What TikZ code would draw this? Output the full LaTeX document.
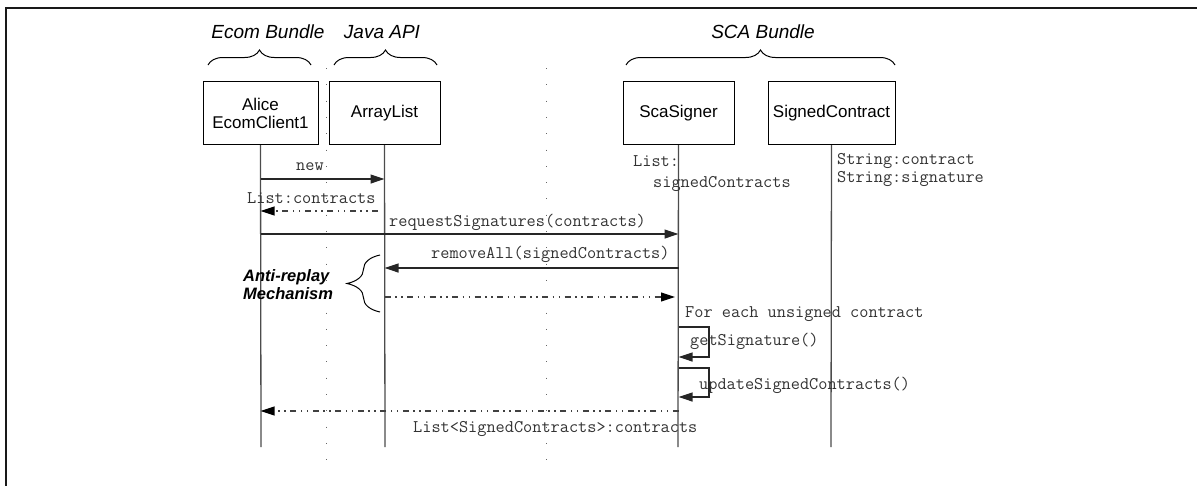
\documentclass[tikz,border=0pt]{standalone}
\usepackage{fontspec}
\setmainfont{Liberation Sans}
\usetikzlibrary{arrows.meta,decorations.pathreplacing}
\begin{document}
\begin{tikzpicture}[x=1pt,y=-1pt,
  box/.style={draw=black,line width=1pt,minimum height=63pt,inner sep=0pt,
    font=\fontsize{17}{18}\selectfont,align=center},
  lifeline/.style={draw=black!70,line width=1.3pt},
  grid/.style={draw=black!60,line width=1pt,dash pattern=on 1pt off 15.3pt},
  msg/.style={draw=black!85,line width=1.2pt,-{Triangle[length=14pt,width=9pt]}},
  ret/.style={draw=black!75,line width=1.1pt,dash pattern=on 6pt off 4.5pt on 1.5pt off 4.5pt on 1.5pt off 4.5pt,
    -{Triangle[length=14pt,width=9pt,color=black]}},
  mono/.style={font=\fontsize{17.8}{20}\selectfont\ttfamily,inner sep=0pt,text=black!80},
  hdr/.style={font=\fontsize{19}{22}\selectfont\itshape,inner sep=0pt},
  brc/.style={draw=black,line width=1pt,decorate,decoration={brace,amplitude=15pt}}
]
\useasboundingbox (0,0) rectangle (1197,485);
% frame
\draw[line width=2pt,black!90] (1197,8) -- (6,8) -- (6,486);
% dotted guides
\draw[grid] (326,68) -- (326,466);
\draw[grid] (546,68) -- (546,466);
% boxes
\node[box,minimum width=115pt] (alice) at (260.5,113) {Alice\\EcomClient1};
\node[box,minimum width=111pt] (arr) at (384.5,113) {ArrayList};
\node[box,minimum width=111pt] (sca) at (678.5,113) {ScaSigner};
\node[box,minimum width=127pt] (sc) at (831.5,113) {SignedContract};
% lifelines
\coordinate (aT) at (alice.south);
\coordinate (aB) at (261,447);
\coordinate (rT) at (arr.south);
\coordinate (rB) at (385,447);
\coordinate (sT) at (sca.south);
\coordinate (sB) at (678,447);
\coordinate (cT) at (sc.south);
\coordinate (cB) at (831,447);
\draw[lifeline] (aT) -- (aB);
\draw[lifeline] (rT) -- (rB);
\draw[lifeline] (sT) -- (sB);
\draw[lifeline] (cT) -- (cB);
% headers and braces
\node[hdr] (hEcom) at (268,32) {Ecom Bundle};
\node[hdr] (hJava) at (382,32) {Java API};
\node[hdr] (hSca) at (763,32) {SCA Bundle};
\draw[brc] (208,65) -- (311,65);
\draw[brc] (334,65) -- (437,65);
\draw[brc] (626,65) -- (895,65);
% messages
\node[mono,anchor=base west] (lnew) at (296,170) {new};
\draw[msg] (aT |- 0,179) -- (rT |- 0,179);
\node[mono,anchor=base west] (llist) at (247,203) {List:contracts};
\draw[ret] (378,211) -- (aT |- 0,211);
\node[mono,anchor=base west] (lreq) at (389,226) {requestSignatures(contracts)};
\draw[msg] (aT |- 0,234) -- (sT |- 0,234);
\node[mono,anchor=base west] (lrem) at (431,258) {removeAll(signedContracts)};
\draw[msg] (sT |- 0,268) -- (rT |- 0,268);
\draw[ret] (rT |- 0,297) -- (675,297);
% anti-replay
\draw[brc,decoration={brace,amplitude=33pt}] (380,312) -- (380,255);
\node[font=\fontsize{16.5}{18}\selectfont\bfseries\itshape,align=left,anchor=west,inner sep=0pt] (anti) at (243,285) {Anti-replay\\Mechanism};
% SCA annotations
\node[mono,anchor=base west] (lList) at (633,166) {List:};
\node[mono,anchor=base west] (lsc) at (653,187) {signedContracts};
\node[mono,anchor=base west] (lstr1) at (837,164) {String:contract};
\node[mono,anchor=base west] (lstr2) at (837,182) {String:signature};
\node[mono,anchor=base west] (lfor) at (685,317) {For each unsigned contract};
% self loops
\draw[msg] (sT |- 0,327) -- (709,327) -- (709,357) -- (sT |- 0,357);
\node[mono,anchor=base west] (lget) at (690,345) {getSignature()};
\draw[msg] (sT |- 0,368) -- (709,368) -- (709,397) -- (sT |- 0,397);
\node[mono,anchor=base west] (lupd) at (699,389) {updateSignedContracts()};
% final return
\draw[ret] (sT |- 0,411) -- (aT |- 0,411);
\node[mono,anchor=base west] (lret) at (413,432) {List<SignedContracts>:contracts};
\end{tikzpicture}
\end{document}
